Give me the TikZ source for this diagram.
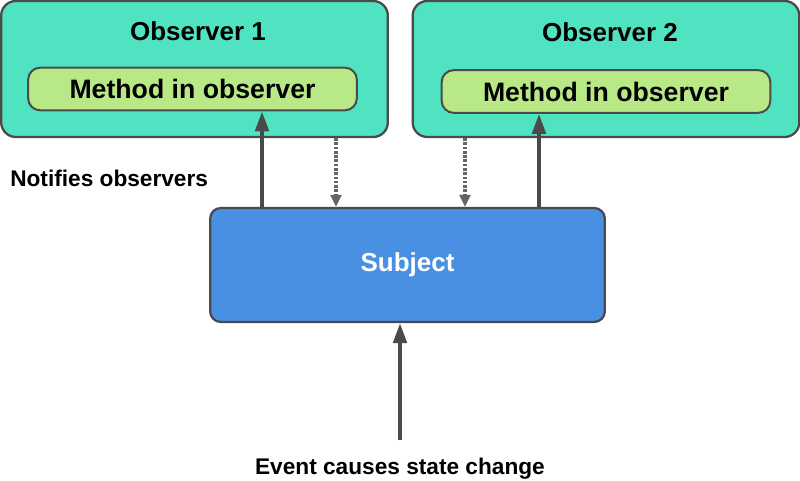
\documentclass[tikz,border=0pt]{standalone}
\usepackage{fontspec}
\setmainfont{Liberation Sans}
\usetikzlibrary{arrows.meta,calc}
\definecolor{obsfill}{HTML}{50E3C2}
\definecolor{methfill}{HTML}{B8E986}
\definecolor{subjfill}{HTML}{4A90E2}
\definecolor{edge}{HTML}{4A4A4A}
\tikzset{
  obsbox/.style={draw=edge, line width=1.7pt, fill=obsfill, rounded corners=11pt,
    minimum width=290pt, minimum height=102pt, inner sep=0pt},
  methbox/.style={draw=edge, line width=1.5pt, fill=methfill, rounded corners=9pt,
    minimum width=246.5pt, minimum height=32pt, inner sep=0pt,
    font=\bfseries\fontsize{20}{22}\selectfont},
  subjbox/.style={draw=edge, line width=1.7pt, fill=subjfill, rounded corners=8pt,
    minimum width=296pt, minimum height=85.5pt, inner sep=0pt,
    text=white, font=\bfseries\fontsize{19.5}{22}\selectfont},
  title/.style={font=\bfseries\fontsize{19.5}{22}\selectfont, inner sep=0pt},
  caption/.style={font=\bfseries\fontsize{17}{19}\selectfont, inner sep=0pt},
  notify/.style={draw=edge, line width=3pt, -{Triangle[length=15pt,width=10pt]}},
  reply/.style={draw=edge!85, line width=2.6pt, dash pattern=on 2pt off 1.2pt,
    -{Triangle[length=9pt,width=8pt]}},
}
\begin{document}
\begin{tikzpicture}[x=0.75pt,y=-0.75pt]
  \useasboundingbox (0,0) rectangle (800,481);

  % the two observers with their methods
  \node[obsbox] (o1) at (194.5,69) {};
  \node[title] (t1) at (198,31) {Observer 1};
  \node[methbox] (m1) at (192.5,89) {Method in observer};

  \node[obsbox] (o2) at (606,69) {};
  \node[title] (t2) at (610,32) {Observer 2};
  \node[methbox] (m2) at (606,91.5) {Method in observer};

  % the subject
  \node[subjbox] (subj) at (407.5,265) {Subject};

  % labels
  \node[caption, anchor=west] (nt) at (10,178) {Notifies observers};
  \node[caption] (ev) at (400,468.5) {Event causes state change};

  % x positions of the connectors
  \coordinate (x1) at (262,0);
  \coordinate (x2) at (336,0);
  \coordinate (x3) at (465,0);
  \coordinate (x4) at (539,0);
  \coordinate (src) at (400,440);

  % notifications and replies
  \draw[notify] (subj.north -| x1) -- (m1.south -| x1);
  \draw[reply] (o1.south -| x2) -- (subj.north -| x2);
  \draw[reply] (o2.south -| x3) -- (subj.north -| x3);
  \draw[notify] (subj.north -| x4) -- (m2.south -| x4);

  % incoming event
  \draw[notify] (src) -- (subj.south -| src);
\end{tikzpicture}
\end{document}
